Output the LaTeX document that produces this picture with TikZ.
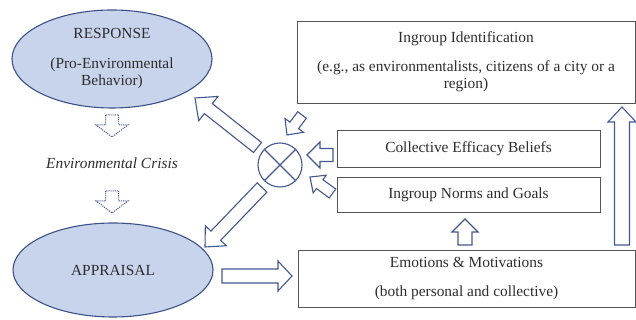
\documentclass[tikz,border=0pt]{standalone}
\usepackage{fontspec}
\setmainfont{Liberation Serif}
\usepackage{xcolor}
\usetikzlibrary{calc,positioning,shapes.geometric}
\definecolor{ellfill}{RGB}{200,212,236}
\definecolor{ellline}{RGB}{58,82,138}
\definecolor{arrblue}{RGB}{66,88,146}
\definecolor{boxline}{RGB}{85,85,85}
\definecolor{txt}{RGB}{45,45,45}
\tikzset{
  ellnode/.style={ellipse, draw=ellline, line width=1.1pt, fill=ellfill, inner sep=0pt, align=center, text=txt},
  boxnode/.style={rectangle, draw=boxline, line width=0.8pt, inner sep=0pt, align=center, text=txt},
  fat/.style={draw=arrblue, line width=1.1pt, fill=white, line join=miter},
  dotfat/.style={fat, densely dotted, line width=1pt},
}
% block arrow: [style]{tail}{tip}{half shaft}{half head}{head length}
\newcommand\fatarrow[6][fat]{%
  \draw[#1] let \p1=($(#3)-(#2)$), \n1={atan2(\y1,\x1)}, \n2={veclen(\x1,\y1)-#6} in
    ($(#2)+(\n1+90:#4)$) -- ($(#2)+(\n1:\n2)+(\n1+90:#4)$) -- ($(#2)+(\n1:\n2)+(\n1+90:#5)$)
    -- (#3) -- ($(#2)+(\n1:\n2)+(\n1-90:#5)$) -- ($(#2)+(\n1:\n2)+(\n1-90:#4)$)
    -- ($(#2)+(\n1-90:#4)$) -- cycle;}

\begin{document}
\begin{tikzpicture}[x=1pt, y=1pt, font=\fontsize{15.4}{17}\selectfont]
  \useasboundingbox (0,0) rectangle (636,320);
  % left column
  \node[ellnode, minimum width=200pt, minimum height=98pt] (resp) at (112,261)
    {RESPONSE\\[13pt](Pro-Environmental\\Behavior)};
  \node[ellnode, minimum width=200pt, minimum height=94pt] (appr) at (113,50) {APPRAISAL};
  \node[text=txt, font=\fontsize{15.4}{17}\selectfont\itshape] (crisis) at (112,157) {Environmental Crisis};
  % right column
  \node[boxnode, minimum width=338pt, minimum height=82pt] (ident) at (466,258)
    {Ingroup Identification\\[12pt](e.g., as environmentalists, citizens of a city or a\\region)};
  \node[boxnode, minimum width=263pt, minimum height=37pt] (eff) at (468.5,171.5) {Collective Efficacy Beliefs};
  \node[boxnode, minimum width=263pt, minimum height=35pt] (norms) at (468.5,125.5) {Ingroup Norms and Goals};
  \node[boxnode, minimum width=337pt, minimum height=57pt] (emo) at (466.5,41.5)
    {Emotions \& Motivations\\[12pt](both personal and collective)};
  % combination
  \node[circle, draw=arrblue, line width=1.1pt, minimum size=44pt, inner sep=0pt] (ox) at (280,155) {};
  \draw[arrblue, line width=1.1pt] (ox.45) -- (ox.225) (ox.135) -- (ox.315);
  % arrow ends
  \coordinate (d1s) at (112,205); \coordinate (d1e) at (112,183);
  \coordinate (d2s) at (112,129); \coordinate (d2e) at (112,107);
  \coordinate (a1s) at (257.5,172.5); \coordinate (a1e) at (195,222);
  \coordinate (a2s) at (262,132.5); \coordinate (a2e) at (205,73);
  \coordinate (a3s) at (222,44); \coordinate (a3e) at (292,44);
  \coordinate (a4s) at (302,205); \coordinate (a4e) at (287,185);
  \coordinate (a5s) at (333,165); \coordinate (a5e) at (307,165);
  \coordinate (a6s) at (332.5,126.5); \coordinate (a6e) at (310,143);
  \coordinate (a7s) at (465,75); \coordinate (a7e) at (465,101);
  \coordinate (a8s) at (622,75); \coordinate (a8e) at (622,213);
  % arrows
  \fatarrow[dotfat]{d1s}{d1e}{6.5pt}{16pt}{12pt}
  \fatarrow[dotfat]{d2s}{d2e}{6.5pt}{16pt}{12pt}
  \fatarrow{a1s}{a1e}{6.4pt}{15.5pt}{17pt}
  \fatarrow{a2s}{a2e}{6.7pt}{14.5pt}{15.6pt}
  \fatarrow{a3s}{a3e}{7pt}{15pt}{14pt}
  \fatarrow{a4s}{a4e}{5.4pt}{11.5pt}{12pt}
  \fatarrow{a5s}{a5e}{6.5pt}{13pt}{13pt}
  \fatarrow{a6s}{a6e}{5.5pt}{11pt}{12pt}
  \fatarrow{a7s}{a7e}{7pt}{13pt}{13pt}
  \fatarrow{a8s}{a8e}{7.5pt}{14pt}{15pt}
\end{tikzpicture}
\end{document}
